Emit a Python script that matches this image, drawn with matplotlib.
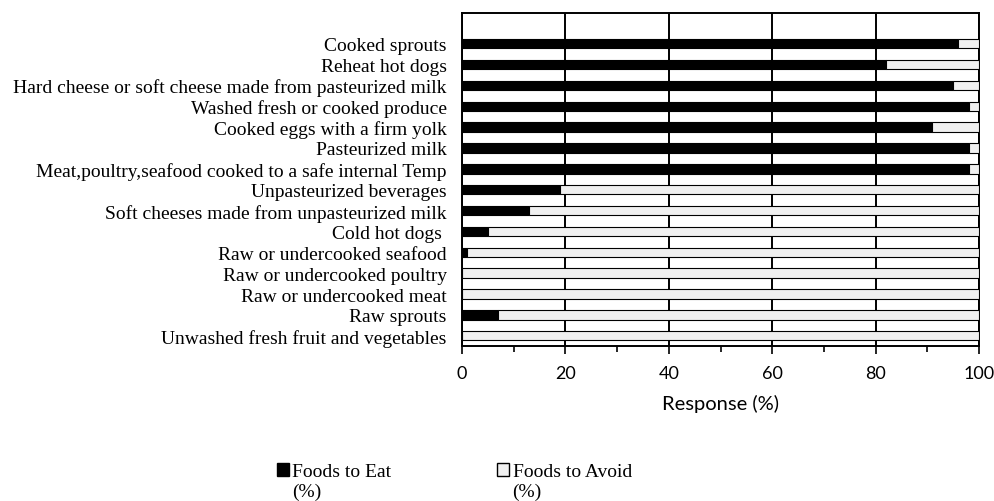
import matplotlib
matplotlib.use("Agg")
import matplotlib.pyplot as plt
from matplotlib.patches import Patch, Rectangle
from matplotlib.legend_handler import HandlerPatch
from matplotlib.ticker import MultipleLocator

categories = [
    "Cooked sprouts",
    "Reheat hot dogs",
    "Hard cheese or soft cheese made from pasteurized milk",
    "Washed fresh or cooked produce",
    "Cooked eggs with a firm yolk",
    "Pasteurized milk",
    "Meat,poultry,seafood cooked to a safe internal Temp",
    "Unpasteurized beverages",
    "Soft cheeses made from unpasteurized milk",
    "Cold hot dogs ",
    "Raw or undercooked seafood",
    "Raw or undercooked poultry",
    "Raw or undercooked meat",
    "Raw sprouts",
    "Unwashed fresh fruit and vegetables",
]
foods_to_eat = [96, 82, 95, 98, 91, 98, 98, 19, 13, 5, 1, 0, 0, 7, 0]
foods_to_avoid = [100 - v for v in foods_to_eat]
xticks = [0, 20, 40, 60, 80, 100]

W, H = 994, 502
fig = plt.figure(figsize=(W / 100, H / 100), dpi=100)
left, right, top, bottom = 462, 979, 14, 347
ax = fig.add_axes([left / W, 1 - bottom / H, (right - left) / W, (bottom - top) / H])

ypos = list(range(len(categories)))
bh = 0.45
ax.barh(ypos, foods_to_eat, height=bh, color="black", edgecolor="black", linewidth=0.8, zorder=3)
ax.barh(ypos, foods_to_avoid, left=foods_to_eat, height=bh, color="#f0f0f0",
        edgecolor="black", linewidth=0.8, zorder=3)

ax.set_xlim(0, 100)
ax.set_ylim(len(categories) - 1 + 0.49, -1.47)
ax.set_yticks(ypos)
ax.set_yticklabels(categories, family="Liberation Serif", fontsize=14)
ax.tick_params(axis="y", length=0, pad=11)
ax.set_xticks(xticks)
ax.xaxis.set_minor_locator(MultipleLocator(10))
ax.tick_params(axis="x", which="major", length=6, width=1.2, labelsize=13, pad=8)
ax.tick_params(axis="x", which="minor", length=4, width=1.2)
for lab in ax.get_xticklabels():
    lab.set_family("Lato")
ax.grid(axis="x", color="black", linewidth=1.4, zorder=0)
ax.set_axisbelow(True)
for s in ax.spines.values():
    s.set_linewidth(1.4)
    s.set_color("black")
ax.set_xlabel("Response (%)", family="Lato", fontsize=14.5, labelpad=9)


class TopHandler(HandlerPatch):
    def create_artists(self, legend, orig_handle, xdescent, ydescent, width, height,
                       fontsize, trans):
        shift = fontsize * 0.62
        p = Rectangle((-xdescent, -ydescent + shift), width, height,
                      facecolor=orig_handle.get_facecolor(),
                      edgecolor=orig_handle.get_edgecolor(),
                      linewidth=orig_handle.get_linewidth(), transform=trans)
        return [p]


handles = [Patch(facecolor="black", edgecolor="black", linewidth=1.0),
           Patch(facecolor="#f0f0f0", edgecolor="black", linewidth=1.0)]
leg = fig.legend(handles, ["Foods to Eat\n(%)", "Foods to Avoid\n(%)"], ncol=2,
                 loc="upper left", bbox_to_anchor=(259 / W, 1 - 447 / H), frameon=False,
                 prop={"family": "Liberation Serif", "size": 14},
                 handlelength=0.62, handleheight=0.62, handletextpad=0.2, columnspacing=5.4,
                 handler_map={Patch: TopHandler()})

fig.savefig("out.png", dpi=100)
